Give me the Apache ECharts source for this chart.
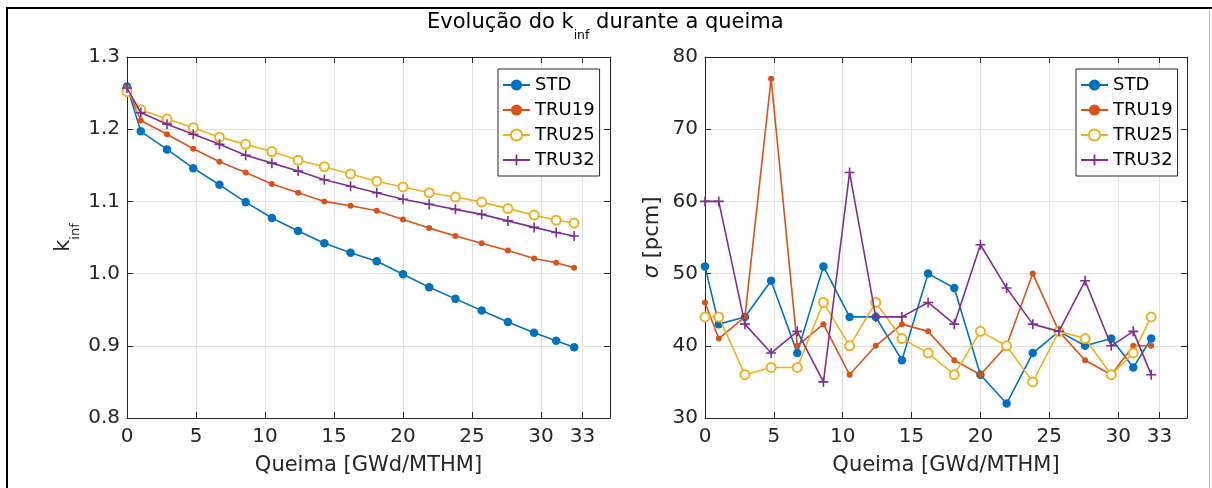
<!DOCTYPE html>
<html><head><meta charset="utf-8">
<script src="https://cdn.jsdelivr.net/npm/echarts@6/dist/echarts.min.js"></script>
<style>html,body{margin:0;padding:0;background:#fff;} #c{width:1212px;height:488px;}</style>
</head><body><div id="c"></div>
<script>
// ---- data ----
const seriesNames = ['STD', 'TRU19', 'TRU25', 'TRU32'];
const burnup = [0, 1, 2.9, 4.8, 6.7, 8.6, 10.5, 12.4, 14.3, 16.2, 18.1, 20.0, 21.9, 23.8, 25.7, 27.6, 29.5, 31.1, 32.4];
const kinfSTD   = [1.259, 1.197, 1.172, 1.146, 1.123, 1.099, 1.077, 1.059, 1.042, 1.029, 1.017, 0.999, 0.981, 0.965, 0.949, 0.933, 0.918, 0.907, 0.898];
const kinfTRU19 = [1.258, 1.212, 1.193, 1.173, 1.155, 1.140, 1.124, 1.112, 1.100, 1.094, 1.087, 1.075, 1.063, 1.052, 1.042, 1.032, 1.021, 1.015, 1.008];
const kinfTRU25 = [1.252, 1.227, 1.214, 1.202, 1.189, 1.179, 1.169, 1.157, 1.148, 1.138, 1.128, 1.120, 1.112, 1.106, 1.099, 1.090, 1.081, 1.074, 1.070];
const kinfTRU32 = [1.257, 1.223, 1.207, 1.193, 1.179, 1.164, 1.153, 1.142, 1.130, 1.121, 1.112, 1.103, 1.096, 1.089, 1.082, 1.073, 1.064, 1.057, 1.052];
const sigmaSTD   = [51, 43, 44, 49, 39, 51, 44, 44, 38, 50, 48, 36, 32, 39, 42, 40, 41, 37, 41];
const sigmaTRU19 = [46, 41, 44, 77, 40, 43, 36, 40, 43, 42, 38, 36, 40, 50, 42, 38, 36, 40, 40];
const sigmaTRU25 = [44, 44, 36, 37, 37, 46, 40, 46, 41, 39, 36, 42, 40, 35, 42, 41, 36, 39, 44];
const sigmaTRU32 = [60, 60, 43, 39, 42, 35, 64, 44, 44, 46, 43, 54, 48, 43, 42, 49, 40, 42, 36];
const xTickValues = [0, 5, 10, 15, 20, 25, 30, 33];
const kinfRange = [0.8, 1.3, 0.1];
const sigmaRange = [30, 80, 10];

// ---- style ----
const FF = 'DejaVu Sans';
const AX = '#262626';
const GRIDC = '#e0e0e0';
const colors = ['#0072BD', '#D95319', '#EDB120', '#7E2F8E'];
const plusPath = 'path://M4.2,0H5.8V4.2H10V5.8H5.8V10H4.2V5.8H0V4.2H4.2Z';
const symbols = [
  {symbol: 'circle', symbolSize: 8.5, itemStyle: {color: colors[0]}},
  {symbol: 'circle', symbolSize: 6, itemStyle: {color: colors[1]}},
  {symbol: 'emptyCircle', symbolSize: 9, itemStyle: {color: colors[2], borderColor: colors[2], borderWidth: 1.4}},
  {symbol: plusPath, symbolSize: 10, itemStyle: {color: colors[3]}}
];

function zip(xs, ys) { return xs.map((x, i) => [x, ys[i]]); }

function xAxesFor(grid) {
  return [{
    type: 'value', gridIndex: grid, min: 0, max: 35, interval: 5, position: 'bottom',
    axisLine: {show: true, onZero: false, lineStyle: {color: AX, width: 1}},
    axisTick: {show: true, inside: true, length: 6, customValues: xTickValues, lineStyle: {color: AX}},
    axisLabel: {customValues: xTickValues, margin: 9, fontSize: 20, fontFamily: FF, color: AX},
    splitLine: {show: true, lineStyle: {color: GRIDC, width: 1}},
    name: 'Queima [GWd/MTHM]', nameLocation: 'middle', nameGap: 37,
    nameTextStyle: {fontSize: 21, fontFamily: FF, color: AX}
  }, {
    type: 'value', gridIndex: grid, min: 0, max: 35, interval: 5, position: 'top',
    axisLine: {show: true, onZero: false, lineStyle: {color: AX, width: 1}},
    axisTick: {show: true, inside: true, length: 6, customValues: xTickValues, lineStyle: {color: AX}},
    axisLabel: {show: false}, splitLine: {show: false}
  }];
}
function yAxesFor(grid, range, fmt, name, nameGap, rich) {
  return [{
    type: 'value', gridIndex: grid, min: range[0], max: range[1], interval: range[2], position: 'left',
    axisLine: {show: true, onZero: false, lineStyle: {color: AX, width: 1}},
    axisTick: {show: true, inside: true, length: 6, lineStyle: {color: AX}},
    axisLabel: {margin: 7, fontSize: 20, fontFamily: FF, color: AX, formatter: fmt},
    splitLine: {show: true, lineStyle: {color: GRIDC, width: 1}},
    name: name, nameLocation: 'middle', nameGap: nameGap,
    nameTextStyle: {fontSize: 21, fontFamily: FF, color: AX, rich: rich}
  }, {
    type: 'value', gridIndex: grid, min: range[0], max: range[1], interval: range[2], position: 'right',
    axisLine: {show: true, onZero: false, lineStyle: {color: AX, width: 1}},
    axisTick: {show: true, inside: true, length: 6, lineStyle: {color: AX}},
    axisLabel: {show: false}, splitLine: {show: false}
  }];
}

const kinfData = [kinfSTD, kinfTRU19, kinfTRU25, kinfTRU32];
const sigmaData = [sigmaSTD, sigmaTRU19, sigmaTRU25, sigmaTRU32];
const series = [];
[kinfData, sigmaData].forEach((set, g) => {
  set.forEach((vals, i) => {
    series.push(Object.assign({
      type: 'line', name: seriesNames[i], xAxisIndex: g * 2, yAxisIndex: g * 2,
      data: zip(burnup, vals), clip: false,
      lineStyle: {color: colors[i], width: 1.6},
      emphasis: {disabled: true}, z: 2 + i
    }, JSON.parse(JSON.stringify(symbols[i]))));
  });
});

function legendAt(left) {
  return {
    orient: 'vertical', left: left, top: 69, padding: [6, 5, 6, 4], itemGap: 5,
    itemWidth: 27, itemHeight: 14, selectedMode: false,
    borderColor: AX, borderWidth: 1, backgroundColor: '#fff',
    textStyle: {fontSize: 18, fontFamily: FF, color: '#000', lineHeight: 20},
    data: seriesNames
  };
}

const subRich = {
  k: {fontSize: 21, fontFamily: FF, color: AX, lineHeight: 24, verticalAlign: 'top'},
  s: {fontSize: 13, fontFamily: FF, color: AX, lineHeight: 14, padding: [16, 0, 0, 0], verticalAlign: 'top'}
};
const sigmaRich = {
  i: {fontSize: 21, fontFamily: FF, color: AX, fontStyle: 'italic'}
};

const option = {
  animation: false,
  backgroundColor: '#fff',
  title: {
    text: '{a|Evolução do k}{s|inf}{a| durante a queima}',
    left: 427, top: 12, padding: 0,
    textStyle: {
      fontWeight: 'normal',
      rich: {
        a: {fontSize: 21, fontFamily: FF, fontWeight: 'normal', color: '#000', lineHeight: 24, verticalAlign: 'top'},
        s: {fontSize: 12.5, fontFamily: FF, fontWeight: 'normal', color: '#000', lineHeight: 13, padding: [17, 0, 0, 0], verticalAlign: 'top'}
      }
    }
  },
  grid: [
    {left: 127, top: 57, width: 483, height: 361},
    {left: 705, top: 57, width: 482, height: 361}
  ],
  xAxis: xAxesFor(0).concat(xAxesFor(1)),
  yAxis: yAxesFor(0, kinfRange, v => v.toFixed(1), '{k|k}{s|inf}', 50, subRich)
    .concat(yAxesFor(1, sigmaRange, v => String(Math.round(v)), '{i|σ} [pcm]', 42, sigmaRich)),
  legend: [legendAt(498), legendAt(1076)],
  series: series,
  graphic: [
    {type: 'line', silent: true, z: 100, shape: {x1: 6, y1: 8, x2: 1212, y2: 8}, style: {stroke: '#000', lineWidth: 2}},
    {type: 'line', silent: true, z: 100, shape: {x1: 7, y1: 7, x2: 7, y2: 488}, style: {stroke: '#000', lineWidth: 2}},
    {type: 'line', silent: true, z: 100, shape: {x1: 1209.5, y1: 9, x2: 1209.5, y2: 488}, style: {stroke: '#b5b5b5', lineWidth: 1}}
  ]
};

const chart = echarts.init(document.getElementById('c'), null, {renderer: 'canvas'});
chart.setOption(option);
</script>
</body></html>
